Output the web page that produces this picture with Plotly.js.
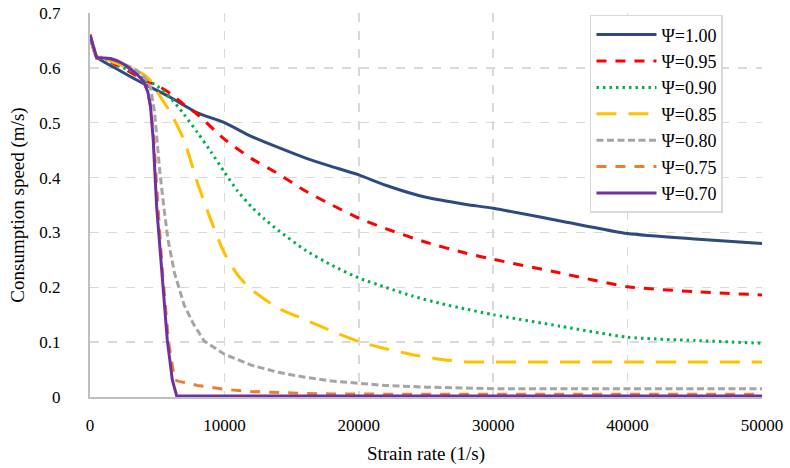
<!DOCTYPE html>
<html>
<head>
<meta charset="utf-8">
<script src="https://cdn.plot.ly/plotly-3.0.1.min.js"></script>
<style>html,body{margin:0;padding:0;background:#fff;}#chart{width:790px;height:468px;}</style>
</head>
<body>
<div id="chart"></div>
<script>
// Series names
const seriesNames = ["Ψ=1.00", "Ψ=0.95", "Ψ=0.90", "Ψ=0.85", "Ψ=0.80", "Ψ=0.75", "Ψ=0.70"];

// Ψ=1.00
const x100 = [0, 500, 2000, 4000, 6000, 8000, 10000, 12000, 14000, 16000, 18000, 20000, 22000, 25000, 28000, 30000, 35000, 40000, 45000, 50000];
const y100 = [0.66, 0.62, 0.598, 0.571, 0.546, 0.518, 0.50, 0.475, 0.455, 0.436, 0.42, 0.405, 0.386, 0.364, 0.351, 0.344, 0.321, 0.298, 0.288, 0.28];

// Ψ=0.95
const x095 = [0, 500, 1000, 2000, 3000, 4000, 5000, 6000, 7000, 8000, 10000, 12000, 14000, 16000, 18000, 20000, 22000, 25000, 28000, 30000, 35000, 40000, 45000, 50000];
const y095 = [0.66, 0.62, 0.617, 0.605, 0.592, 0.578, 0.568, 0.553, 0.533, 0.515, 0.47, 0.435, 0.407, 0.376, 0.35, 0.326, 0.307, 0.282, 0.262, 0.251, 0.226, 0.201, 0.192, 0.186];

// Ψ=0.90
const x090 = [0, 500, 1000, 2000, 3000, 4000, 5000, 6000, 7000, 8000, 9000, 10000, 11000, 12000, 13000, 14000, 16000, 18000, 20000, 22000, 24000, 26000, 28000, 30000, 35000, 40000, 45000, 50000];
const y090 = [0.66, 0.62, 0.617, 0.606, 0.594, 0.58, 0.567, 0.545, 0.515, 0.482, 0.447, 0.41, 0.375, 0.347, 0.324, 0.304, 0.268, 0.24, 0.217, 0.2, 0.184, 0.171, 0.16, 0.15, 0.129, 0.109, 0.103, 0.098];

// Ψ=0.85
const x085 = [0, 500, 1000, 2000, 3000, 4000, 4500, 5000, 6000, 7000, 8000, 9000, 10000, 11000, 12000, 14000, 16000, 18000, 20000, 22000, 24000, 26000, 28000, 30000, 40000, 50000];
const y085 = [0.66, 0.62, 0.618, 0.608, 0.598, 0.588, 0.577, 0.556, 0.518, 0.468, 0.39, 0.322, 0.262, 0.222, 0.196, 0.162, 0.141, 0.12, 0.101, 0.088, 0.077, 0.069, 0.064, 0.064, 0.064, 0.064];

// Ψ=0.80
const x080 = [0, 500, 1000, 2000, 3000, 3500, 4000, 4500, 4800, 5000, 5200, 5500, 5800, 6300, 7000, 7700, 8500, 10000, 12000, 14000, 16000, 18000, 20000, 22000, 25000, 28000, 30000, 40000, 50000];
const y080 = [0.66, 0.62, 0.619, 0.612, 0.602, 0.595, 0.585, 0.565, 0.52, 0.465, 0.41, 0.345, 0.287, 0.225, 0.168, 0.133, 0.102, 0.078, 0.058, 0.045, 0.036, 0.029, 0.025, 0.021, 0.018, 0.016, 0.015, 0.015, 0.015];

// Ψ=0.75
const x075 = [0, 500, 1000, 1500, 2000, 2500, 3000, 3500, 4000, 4300, 4500, 4750, 5050, 5400, 5850, 6300, 6700, 7200, 8000, 10000, 12000, 14000, 16000, 18000, 20000, 25000, 30000, 40000, 50000];
const y075 = [0.66, 0.618, 0.618, 0.617, 0.613, 0.607, 0.598, 0.588, 0.575, 0.556, 0.53, 0.47, 0.35, 0.225, 0.1, 0.031, 0.028, 0.026, 0.021, 0.014, 0.01, 0.008, 0.0065, 0.0055, 0.005, 0.005, 0.005, 0.005, 0.005];

// Ψ=0.70
const x070 = [0, 500, 1000, 1500, 2000, 2500, 3000, 3500, 4000, 4300, 4500, 4700, 4960, 5335, 5750, 6125, 6450, 7000, 50000];
const y070 = [0.66, 0.618, 0.618, 0.617, 0.613, 0.607, 0.598, 0.588, 0.575, 0.556, 0.53, 0.47, 0.347, 0.225, 0.104, 0.031, 0.002, 0.002, 0.002];

// Tick values
const xTicks = [0, 10000, 20000, 30000, 40000, 50000];
const yTicks = [0, 0.1, 0.2, 0.3, 0.4, 0.5, 0.6, 0.7];

const xs = [x100, x095, x090, x085, x080, x075, x070];
const ys = [y100, y095, y090, y085, y080, y075, y070];
const colors = ["#2F4A7E", "#FF0000", "#00B050", "#FFC000", "#A5A5A5", "#ED7D31", "#7030A0"];
const dashes = ["solid", "10px,9px", "2.5px,4px", "20px,12px", "7px,3.5px", "10px,9px", "solid"];
const shapes = ["spline", "spline", "spline", "spline", "linear", "linear", "linear"];

const traces = seriesNames.map((n, i) => ({
  type: "scatter",
  mode: "lines",
  name: n,
  x: xs[i],
  y: ys[i],
  line: {color: colors[i], width: 3, dash: dashes[i], shape: shapes[i], smoothing: 0.6}
}));

const font = "'Liberation Serif', 'Times New Roman', Times, serif";
const layout = {
  width: 790, height: 468,
  margin: {l: 90, r: 28, t: 13, b: 71},
  paper_bgcolor: "#fff", plot_bgcolor: "#fff",
  font: {family: font, color: "#000", size: 16},
  showlegend: true,
  legend: {
    x: 0.744, y: 0.995, xanchor: "left", yanchor: "top",
    bgcolor: "#fff", bordercolor: "#d9d9d9", borderwidth: 1.5,
    font: {family: font, size: 18, color: "#000"},
    itemwidth: 60
  },
  xaxis: {
    range: [0, 50000], tickvals: xTicks, ticktext: xTicks.map(String),
    showgrid: true, gridcolor: "#d9d9d9", gridwidth: 1.5, griddash: "dash",
    showline: true, linecolor: "#bfbfbf", linewidth: 2,
    zeroline: false, ticks: "", ticklabelstandoff: 12,
    tickfont: {family: font, size: 17, color: "#000"},
    title: {text: "Strain rate (1/s)", font: {family: font, size: 19, color: "#000"}, standoff: 12}
  },
  yaxis: {
    range: [0, 0.7], tickvals: yTicks, ticktext: yTicks.map(v => v === 0 ? "0" : v.toFixed(1)),
    showgrid: true, gridcolor: "#d9d9d9", gridwidth: 1.5, griddash: "dash",
    showline: true, linecolor: "#bfbfbf", linewidth: 2,
    zeroline: false, ticks: "", ticklabelstandoff: 24,
    tickfont: {family: font, size: 17, color: "#000"},
    title: {text: "Consumption speed (m/s)", font: {family: font, size: 19, color: "#000"}, standoff: 10}
  }
};

Plotly.newPlot("chart", traces, layout, {displayModeBar: false, staticPlot: true});
</script>
</body>
</html>
